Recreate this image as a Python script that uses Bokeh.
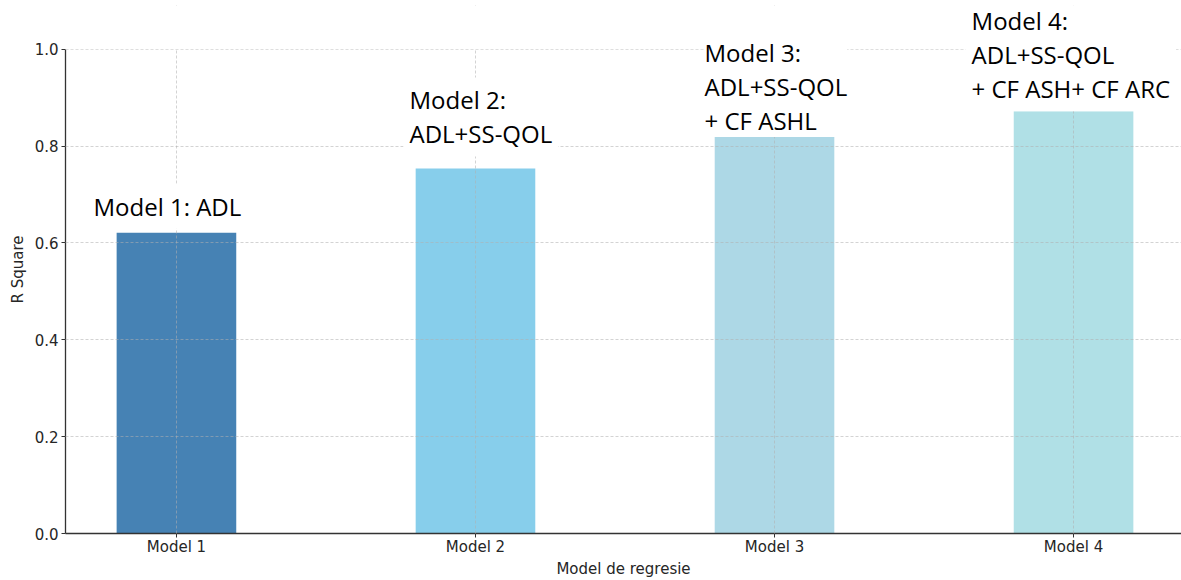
from bokeh.plotting import figure
from bokeh.models import Range1d, FixedTicker, Label, NumeralTickFormatter, ColumnDataSource, BoxAnnotation
from bokeh.embed import file_html
from bokeh.resources import INLINE

models = ["Model 1", "Model 2", "Model 3", "Model 4"]
r_square = [0.621, 0.754, 0.819, 0.872]
colors = ["#4682B4", "#87CEEB", "#ADD8E6", "#B0E0E6"]
annotations = [
    "Model 1: ADL",
    "Model 2:\nADL+SS-QOL",
    "Model 3:\nADL+SS-QOL\n+ CF ASHL",
    "Model 4:\nADL+SS-QOL\n+ CF ASH+ CF ARC",
]
y_ticks = [0.0, 0.2, 0.4, 0.6, 0.8, 1.0]
x_label = "Model de regresie"
y_label = "R Square"

# label placement (screen offsets, padding)
label_dx = [-89, -72, -70, -108]
label_dy = [4, 12, 0, 0]
label_pad = [6, 6, 0, 6]

xs = list(range(len(models)))
source = ColumnDataSource(dict(x=xs, top=r_square, color=colors, name=models))

p = figure(width=1181, height=580, output_backend="svg", toolbar_location=None,
           x_range=Range1d(-0.371, 3.361), y_range=Range1d(0, 1.0905),
           min_border_left=65, min_border_right=0, min_border_top=5, min_border_bottom=43)
p.outline_line_color = None
p.background_fill_color = "white"

p.vbar(x="x", top="top", width=0.4, bottom=0, color="color", source=source, line_color=None)

for ax in (p.xaxis[0], p.yaxis[0]):
    ax.axis_line_color = "#333333"
    ax.axis_line_width = 1.3
    ax.major_tick_line_color = "#333333"
    ax.major_tick_out = 4
    ax.major_tick_in = 0
    ax.minor_tick_line_color = None
    ax.major_label_text_font = "DejaVu Sans"
    ax.major_label_text_font_size = "15px"
    ax.major_label_text_color = "#262626"
    ax.axis_label_text_font = "DejaVu Sans"
    ax.axis_label_text_font_size = "15px"
    ax.axis_label_text_font_style = "normal"
    ax.axis_label_text_color = "#262626"

p.xaxis.ticker = FixedTicker(ticks=xs)
p.xaxis.major_label_overrides = {i: m for i, m in enumerate(models)}
p.xaxis.axis_label = x_label
p.xaxis.major_label_standoff = 0
p.xaxis.axis_label_standoff = 1

p.yaxis.ticker = FixedTicker(ticks=y_ticks)
p.yaxis.formatter = NumeralTickFormatter(format="0.0")
p.yaxis.axis_label = y_label
p.yaxis.major_label_standoff = 3
p.yaxis.axis_label_standoff = 5
p.yaxis.bounds = (y_ticks[0], y_ticks[-1])

for g in (p.xgrid[0], p.ygrid[0]):
    g.grid_line_color = "#b0b0b0"
    g.grid_line_alpha = 0.7
    g.grid_line_dash = "3 2"
    g.grid_line_width = 0.8
    g.level = "guide"

# hide grid above the top of the value axis
mask = BoxAnnotation(bottom=y_ticks[-1], fill_color="white", fill_alpha=1.0,
                     line_color=None, level="guide")
p.add_layout(mask)

for i, txt in enumerate(annotations):
    lab = Label(x=xs[i], y=r_square[i], text=txt, x_offset=label_dx[i], y_offset=label_dy[i],
                text_baseline="bottom", text_align="left",
                text_font="Open Sans", text_font_size="24px", text_color="black",
                text_line_height=1.03,
                background_fill_color="white", padding=label_pad[i])
    p.add_layout(lab)

open("out.html", "w").write(file_html(p, INLINE))
